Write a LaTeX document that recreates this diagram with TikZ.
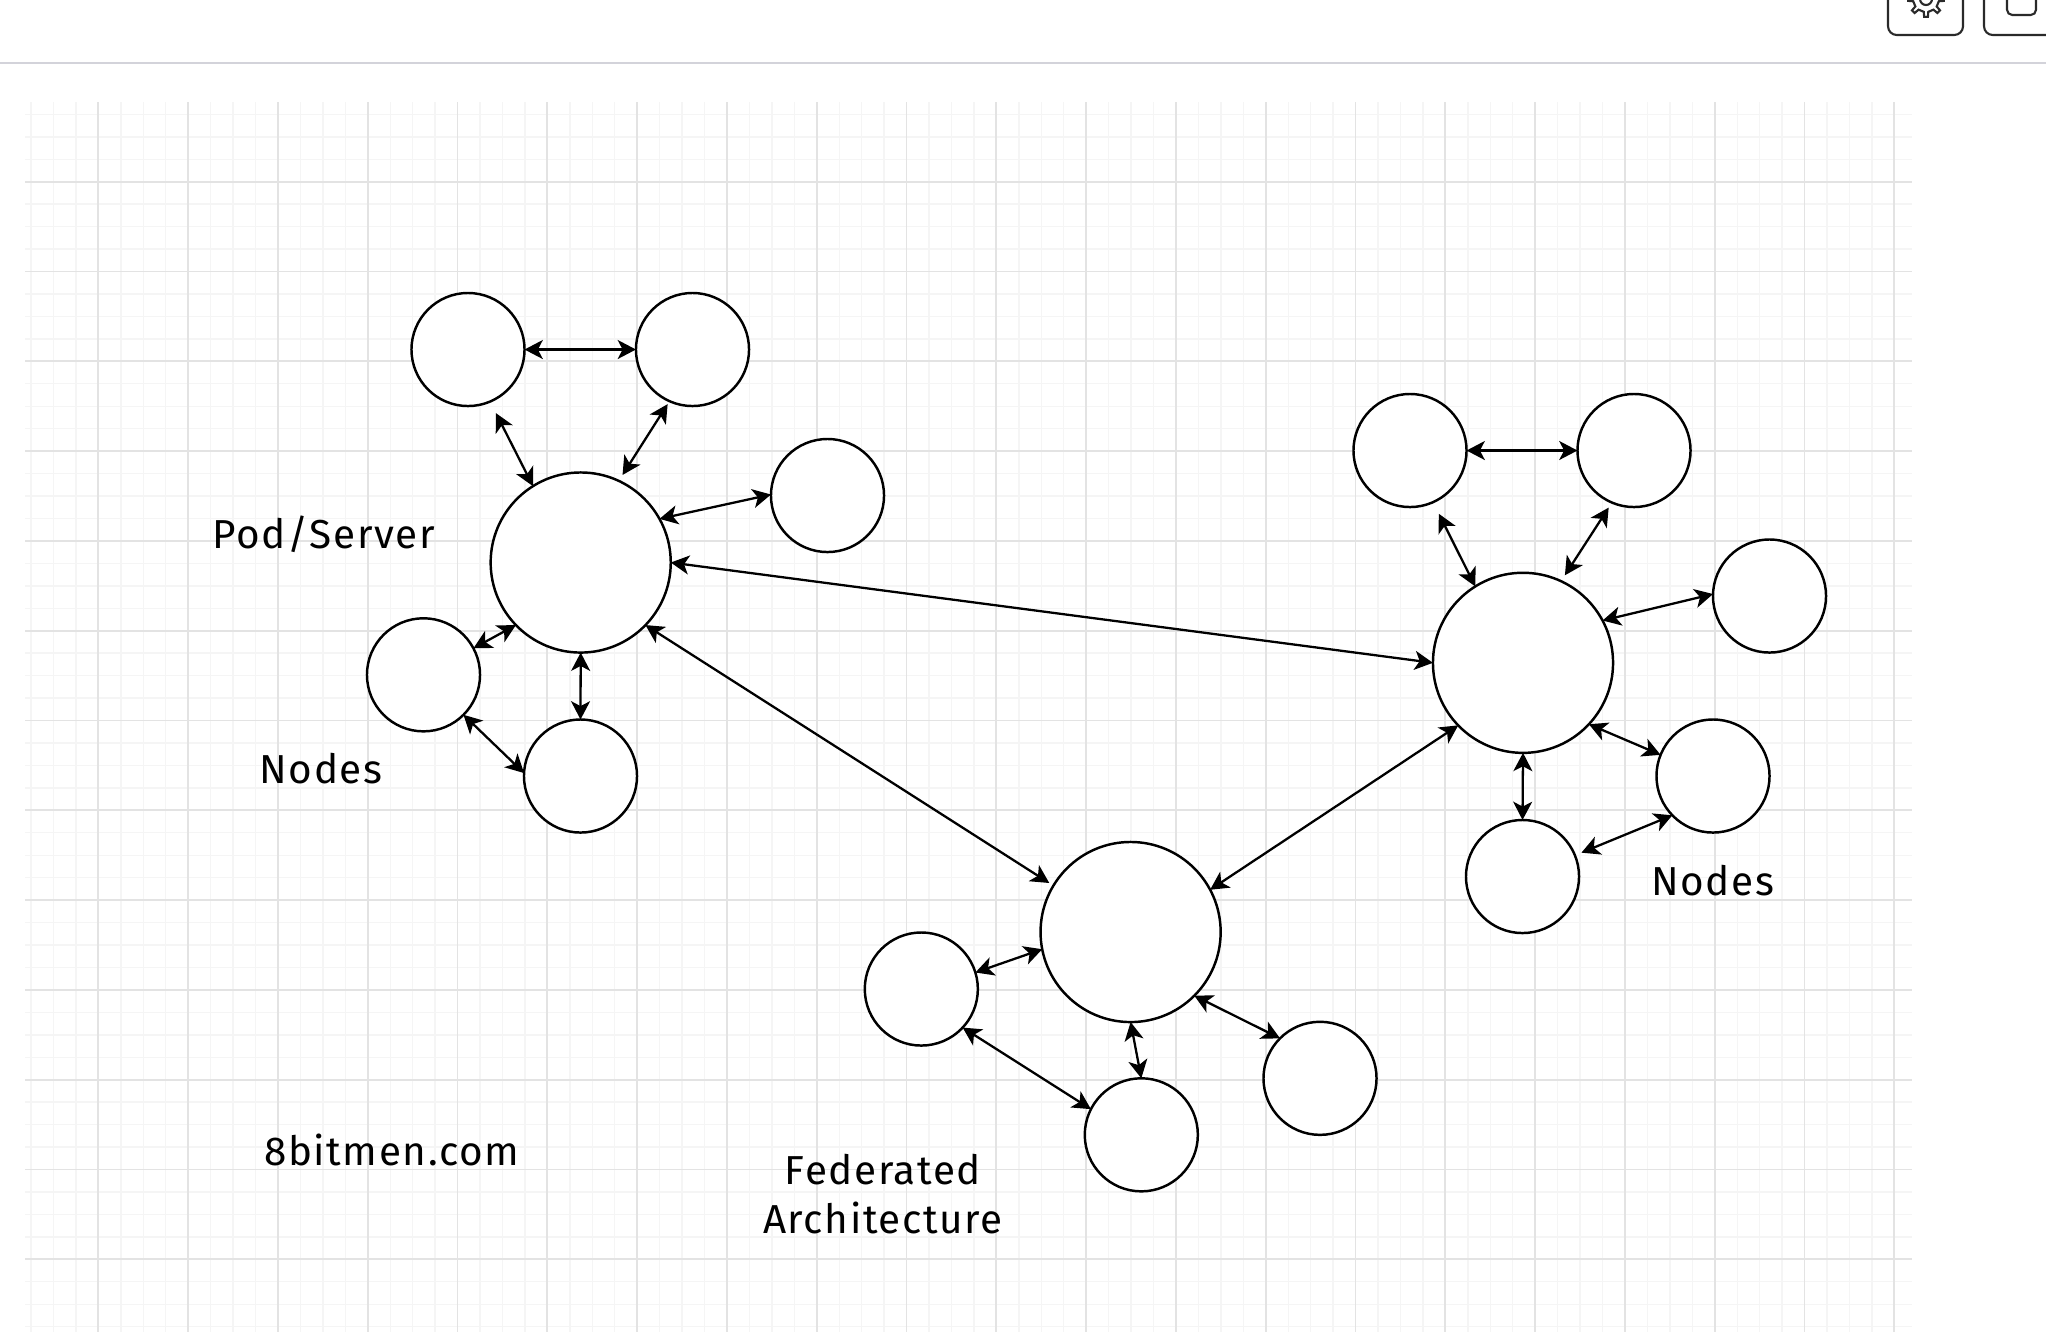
\documentclass[tikz,border=0pt]{standalone}
\usepackage{fontspec}
\setmainfont{Fira Sans}[LetterSpace=4]
\usetikzlibrary{arrows.meta}
\definecolor{gridmajor}{HTML}{E3E3E3}
\definecolor{gridminor}{HTML}{F5F5F5}
\definecolor{sepline}{HTML}{D3D3DA}
\definecolor{iconcol}{HTML}{2A2A2A}
\begin{document}
\begin{tikzpicture}[x=0.01cm,y=-0.01cm,
  small/.style={circle,draw=black,fill=white,line width=0.7pt,minimum size=1.13cm,inner sep=0pt,outer sep=0pt},
  big/.style={small,minimum size=1.80cm},
  arr/.style={line width=0.65pt,{Stealth[length=5.2pt,width=5.4pt,inset=1.4pt]}-{Stealth[length=5.2pt,width=5.4pt,inset=1.4pt]}},
  lbl/.style={font=\fontsize{11.5}{13.66}\selectfont,anchor=base,inner sep=0pt,align=center},
  minorln/.style={draw=gridminor,line width=0.4pt},
  majorln/.style={draw=gridmajor,line width=0.5pt},
  iconln/.style={draw=iconcol,line width=0.6pt}]
\useasboundingbox (0,0) rectangle (2046,1332);
\clip (0,0) rectangle (2046,1332);
\fill[white] (0,0) rectangle (2046,1332);
% grid
\foreach \k in {0,...,83} \draw[minorln] ({31+22.45*\k},102) -- ({31+22.45*\k},1332);
\foreach \k in {1,...,55} \draw[minorln] (25,{91.9+22.45*\k}) -- (1912,{91.9+22.45*\k});
\foreach \m in {0,...,20} \draw[majorln] ({98.3+89.8*\m},102) -- ({98.3+89.8*\m},1332);
\foreach \m in {1,...,13} \draw[majorln] (25,{91.9+89.8*\m}) -- (1912,{91.9+89.8*\m});
% top bar
\draw[sepline,line width=0.6pt] (0,63) -- (2046,63);
\draw[iconln,rounded corners=2.5pt] (1888,-20) rectangle (1963,35);
\draw[iconln,shift={(1926,-1)}] (-10:13) \foreach \a in {0,45,...,315}{ -- (\a-10:13) -- (\a-6:18) -- (\a+6:18) -- (\a+10:13) } -- cycle;
\draw[iconln] (1926,-1) circle[radius=6];
\draw[iconln,rounded corners=2.5pt] (1984,-20) rectangle (2070,35);
\draw[iconln,rounded corners=1.5pt] (2007,-15) rectangle (2036,15);
% left cluster
\node[big]   (L)  at (580.7,562.5) {};
\node[small] (a1) at (468,349.5) {};
\node[small] (a2) at (692.5,349.5) {};
\node[small] (a3) at (827.5,495.5) {};
\node[small] (a4) at (423.5,674.8) {};
\node[small] (a5) at (580.5,776) {};
% right cluster
\node[big]   (R)  at (1523,662.8) {};
\node[small] (b1) at (1410,450.5) {};
\node[small] (b2) at (1634,450.5) {};
\node[small] (b3) at (1769.5,596) {};
\node[small] (b4) at (1713,776) {};
\node[small] (b5) at (1522.5,876.5) {};
% bottom cluster
\node[big]   (B)  at (1130.6,932) {};
\node[small] (c1) at (921.3,989) {};
\node[small] (c2) at (1141.3,1134.8) {};
\node[small] (c3) at (1320,1078.3) {};
% connectors left
\draw[arr] (a1.east) -- (a2.west);
\draw[arr,shorten <=3.7pt] (a1.-67) -- (L.122);
\draw[arr,shorten <=1pt,shorten >=2pt] (a2.-114) -- (L.65);
\draw[arr] (a3.179) -- (L.29);
\draw[arr] (a4.28) -- (L.224.5);
\draw[arr] (L.south) -- (a5.north);
\draw[arr] (a4.-45.5) -- (a5.177);
% long connectors
\draw[arr] (L.-0.5) -- (R.180);
\draw[arr,shorten >=1.4pt] (L.-44) -- (B.149);
\draw[arr] (R.224.4) -- (B.28.4);
% connectors right
\draw[arr] (b1.east) -- (b2.west);
\draw[arr,shorten <=3.7pt] (b1.-66) -- (R.122.7);
\draw[arr,shorten <=1.7pt,shorten >=2pt] (b2.-113.4) -- (R.65.3);
\draw[arr] (b3.178.7) -- (R.28.7);
\draw[arr] (R.-43.4) -- (b4.158.8);
\draw[arr] (R.south) -- (b5.north);
\draw[arr,shorten <=2pt] (b5.22.3) -- (b4.224);
% connectors bottom
\draw[arr] (c1.17.6) -- (B.191.4);
\draw[arr] (B.south) -- (c2.90);
\draw[arr] (B.-45.3) -- (c3.135.9);
\draw[arr] (c1.-43.2) -- (c2.153);
% labels
\node[lbl] (pod) at (323.6,548) {Pod/Server};
\node[lbl] (nodesL) at (321,783) {Nodes};
\node[lbl] (nodesR) at (1712.5,895) {Nodes};
\node[lbl] (site) at (391.7,1165) {8bitmen.com};
\node[lbl] (fed) at (883,1233) {Federated\\Architecture};
\end{tikzpicture}
\end{document}
